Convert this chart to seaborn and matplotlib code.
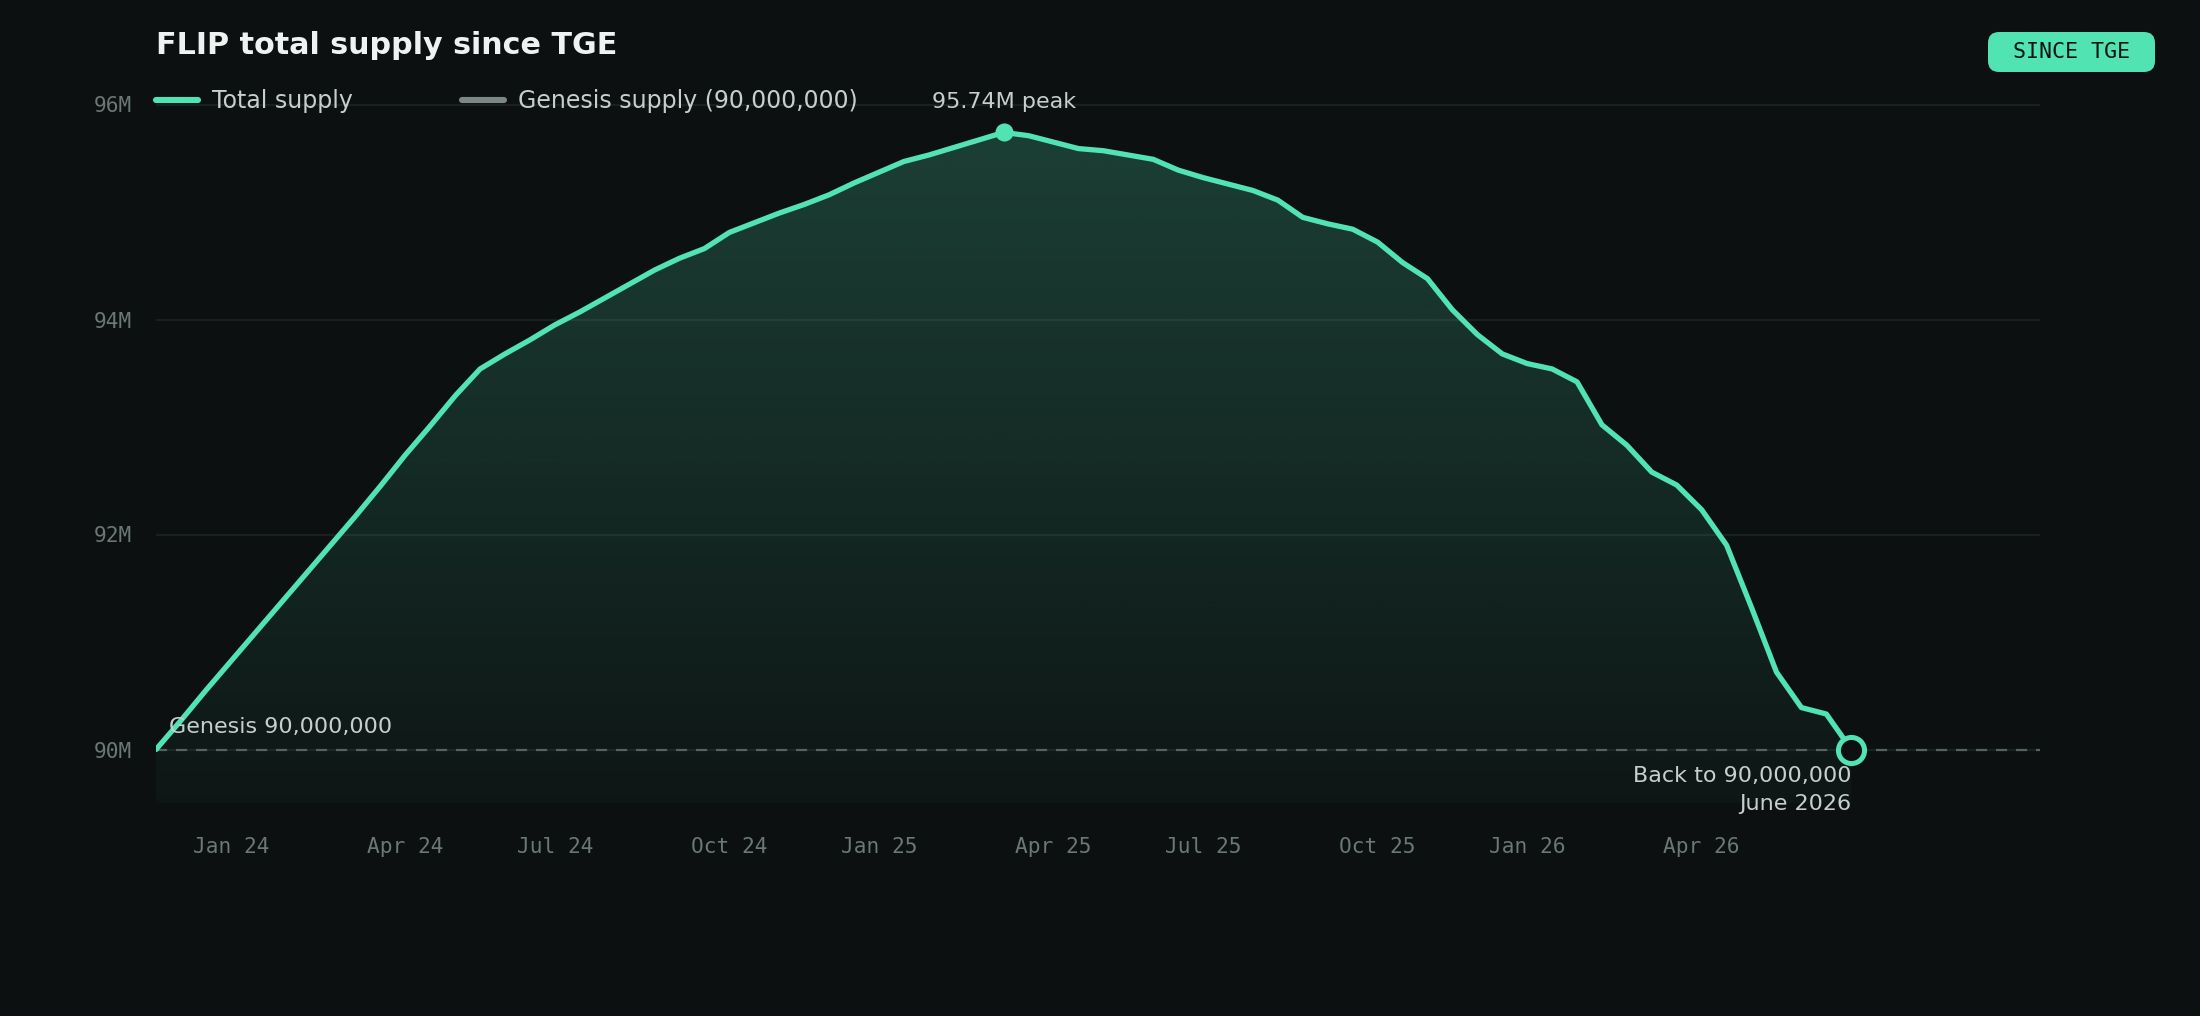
import numpy as np
import pandas as pd
import matplotlib
matplotlib.use("Agg")
import matplotlib.pyplot as plt
from matplotlib.lines import Line2D
from matplotlib.patches import FancyBboxPatch
from matplotlib.transforms import IdentityTransform
from matplotlib.colors import to_rgb
import seaborn as sns

# ==========================================
# DATA: biweekly snapshots since TGE (supply in millions of FLIP)
# ==========================================
supply_m = [
    90.00, 90.27, 90.55, 90.82, 91.09, 91.36, 91.63, 91.90, 92.17, 92.45,
    92.74, 93.01, 93.29, 93.54, 93.68, 93.81, 93.95, 94.07, 94.20, 94.33,
    94.46, 94.57, 94.66, 94.81, 94.90, 94.99, 95.07, 95.16, 95.27, 95.37,
    95.47, 95.53, 95.60, 95.67, 95.74, 95.71, 95.65, 95.59, 95.57, 95.53,
    95.49, 95.39, 95.32, 95.26, 95.20, 95.11, 94.95, 94.89, 94.84, 94.72,
    94.53, 94.38, 94.09, 93.86, 93.68, 93.59, 93.54, 93.42, 93.02, 92.83,
    92.58, 92.46, 92.23, 91.90, 91.32, 90.72, 90.39, 90.33, 90.00,
]
genesis_m = 90.0
tick_idx = [3, 10, 16, 23, 29, 36, 42, 49, 55, 62]
tick_labels = ["Jan 24", "Apr 24", "Jul 24", "Oct 24", "Jan 25",
               "Apr 25", "Jul 25", "Oct 25", "Jan 26", "Apr 26"]
y_ticks = [90, 92, 94, 96]
y_tick_labels = ["90M", "92M", "94M", "96M"]
end_label = "Back to 90,000,000\nJune 2026"

# ==========================================
# STYLE
# ==========================================
BG = "#0c1011"
MINT = "#52e3b2"
GRID = "#18211f"
DASH = "#56625f"
TICK = "#6b7874"
TEXT = "#c6cfcc"
TITLE = "#eef3f1"

sns.set_theme(style="dark", rc={
    "figure.facecolor": BG, "axes.facecolor": BG, "savefig.facecolor": BG,
    "axes.edgecolor": BG, "grid.color": GRID,
})
plt.rcParams["font.family"] = ["DejaVu Sans"]
MONO = "DejaVu Sans Mono"

df = pd.DataFrame({"idx": np.arange(len(supply_m)), "supply": supply_m})

W, H = 2200, 1016
fig = plt.figure(figsize=(11, 5.08), dpi=200)
ax = fig.add_axes([156 / W, (H - 803.25) / H, 1884 / W, 720.25 / H])
ax.set_xlim(0, 75.57)
ax.set_ylim(89.5, 96.2)

# gradient area under the curve
poly = ax.fill_between(df["idx"], df["supply"], 89.5, color="none", lw=0)
img = np.zeros((256, 1, 4))
img[..., :3] = to_rgb(MINT)
img[:, 0, 3] = np.linspace(0.03, 0.24, 256)
im = ax.imshow(img, origin="lower", aspect="auto", zorder=1,
               extent=[0, len(supply_m) - 1, 89.5, 96.2])
im.set_clip_path(poly.get_paths()[0], transform=ax.transData)

ax.axhline(genesis_m, color=DASH, lw=0.8, ls=(0, (5, 4)), zorder=2)
sns.lineplot(data=df, x="idx", y="supply", color=MINT, lw=1.9, ax=ax,
             zorder=3, legend=False)

# peak dot + label
peak_i = int(np.argmax(supply_m))
peak = supply_m[peak_i]
ax.plot(peak_i, peak, "o", color=MINT, ms=5.5, zorder=4)
ax.annotate(f"{peak:.2f}M peak", xy=(peak_i, peak), xytext=(0, 10.8),
            textcoords="offset points", ha="center", va="center",
            color=TEXT, fontsize=8)

# end marker + label
end_i = len(supply_m) - 1
ax.plot(end_i, supply_m[-1], "o", ms=9.4, mfc=BG, mec=MINT, mew=1.8, zorder=5)
ax.annotate(end_label, xy=(end_i, supply_m[-1]), xytext=(0, -5.8),
            textcoords="offset points", ha="right", va="top",
            color=TEXT, fontsize=8, linespacing=1.5)

ax.annotate("Genesis 90,000,000", xy=(0, genesis_m), xytext=(4.7, 8.1),
            textcoords="offset points", ha="left", va="center",
            color=TEXT, fontsize=8, zorder=6)

# axes
ax.set_xticks(tick_idx, tick_labels, fontfamily=MONO)
ax.set_yticks(y_ticks, y_tick_labels, fontfamily=MONO)
ax.tick_params(axis="both", length=0, colors=TICK, labelsize=7.6)
ax.tick_params(axis="x", pad=12.2)
ax.tick_params(axis="y", pad=8.6)
ax.set_xlabel("")
ax.set_ylabel("")
ax.yaxis.grid(True, color=GRID, lw=0.8)
ax.xaxis.grid(False)
for s in ax.spines.values():
    s.set_visible(False)

# legend
handles = [
    Line2D([], [], color=MINT, lw=2.2, solid_capstyle="round"),
    Line2D([], [], color="#7d8784", lw=2.2, solid_capstyle="round"),
]
ax.legend(handles, ["Total supply", "Genesis supply (90,000,000)"],
          loc="center left", bbox_to_anchor=(0, 96.03),
          bbox_transform=ax.transData, ncol=2, frameon=False,
          borderpad=0, borderaxespad=0, handlelength=1.78,
          handletextpad=0.6, columnspacing=4.6, fontsize=8.5,
          labelcolor=TEXT)

# title and badge
fig.text(156 / W, 1 - 46 / H, "FLIP total supply since TGE", color=TITLE,
         fontsize=10.85, fontweight="bold", ha="left", va="center")
badge = FancyBboxPatch((1988, H - 72), 167, 40,
                       boxstyle="round,pad=0,rounding_size=11",
                       transform=IdentityTransform(), facecolor=MINT,
                       edgecolor="none")
fig.add_artist(badge)
fig.text(2071.5 / W, 1 - 52 / H, "SINCE TGE", color="#0c1512",
         fontsize=7.8, fontfamily=MONO, ha="center", va="center")

fig.savefig("out.png", dpi=200, facecolor=BG)
